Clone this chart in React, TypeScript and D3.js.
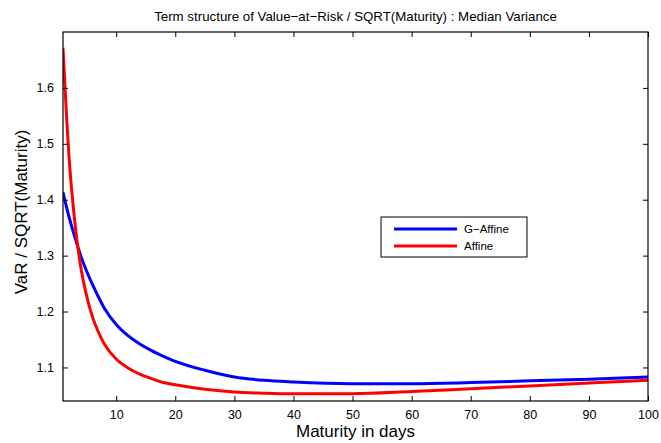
import { useEffect, useRef } from "react";
import * as d3 from "d3";

const days = [1, 2, 3, 4, 5, 6, 7, 8, 10, 12, 14, 16, 18, 20, 25, 30, 35, 40, 50, 60, 70, 80, 90, 100];
const gAffine = [1.413, 1.37, 1.333, 1.3, 1.272, 1.248, 1.226, 1.206, 1.177, 1.157, 1.142, 1.13, 1.12, 1.111, 1.095, 1.083, 1.077, 1.074, 1.071, 1.071, 1.073, 1.076, 1.079, 1.083];
const affine = [1.672, 1.48, 1.36, 1.28, 1.228, 1.19, 1.163, 1.142, 1.115, 1.099, 1.088, 1.08, 1.073, 1.069, 1.061, 1.056, 1.054, 1.053, 1.053, 1.057, 1.062, 1.067, 1.072, 1.077];
const xTicks = [10, 20, 30, 40, 50, 60, 70, 80, 90, 100];
const yTicks = [1.1, 1.2, 1.3, 1.4, 1.5, 1.6];

const series = [
  { name: "G\u2212Affine", values: gAffine, color: "#0000ff" },
  { name: "Affine", values: affine, color: "#ff0000" },
];

const W = 661;
const H = 443;
const margin = { left: 63, right: 13, top: 32, bottom: 42 };
const font = "'Liberation Sans', Arial, Helvetica, sans-serif";

export default function App() {
  const ref = useRef<SVGSVGElement>(null);

  useEffect(() => {
    if (!ref.current) return;
    const svg = d3.select(ref.current);
    svg.selectAll("*").remove();

    const x = d3.scaleLinear().domain([1, 100]).range([margin.left, W - margin.right]);
    const y = d3.scaleLinear().domain([1.04, 1.7]).range([H - margin.bottom, margin.top]);

    svg.append("rect").attr("width", W).attr("height", H).attr("fill", "#fff");

    // curves
    const line = d3
      .line<number>()
      .x((_, i) => x(days[i]))
      .y((d) => y(d))
      .curve(d3.curveMonotoneX);

    svg
      .append("defs")
      .append("clipPath")
      .attr("id", "plotclip")
      .append("rect")
      .attr("x", margin.left)
      .attr("y", margin.top)
      .attr("width", W - margin.left - margin.right)
      .attr("height", H - margin.top - margin.bottom);

    series.forEach((s) => {
      svg
        .append("path")
        .attr("d", line(s.values))
        .attr("fill", "none")
        .attr("stroke", s.color)
        .attr("stroke-width", 3)
        .attr("clip-path", "url(#plotclip)");
    });

    // box axes, ticks inside
    const tick = 5;
    const bottom = svg.append("g").attr("transform", `translate(0,${H - margin.bottom})`);
    bottom.call(d3.axisBottom(x).tickValues(xTicks).tickSizeInner(-tick).tickSizeOuter(0).tickPadding(9));
    const top = svg.append("g").attr("transform", `translate(0,${margin.top})`);
    top.call(d3.axisTop(x).tickValues(xTicks).tickSizeInner(-tick).tickSizeOuter(0).tickFormat(() => ""));
    const left = svg.append("g").attr("transform", `translate(${margin.left},0)`);
    left.call(d3.axisLeft(y).tickValues(yTicks).tickSizeInner(-tick).tickSizeOuter(0).tickPadding(9).tickFormat(d3.format(".1f")));
    const right = svg.append("g").attr("transform", `translate(${W - margin.right},0)`);
    right.call(d3.axisRight(y).tickValues(yTicks).tickSizeInner(-tick).tickSizeOuter(0).tickFormat(() => ""));

    svg.selectAll(".domain").remove();
    svg.selectAll(".tick line").attr("stroke", "#000");
    svg
      .selectAll(".tick text")
      .attr("font-family", font)
      .attr("font-size", 12.5)
      .attr("fill", "#000");

    svg
      .append("rect")
      .attr("x", margin.left)
      .attr("y", margin.top)
      .attr("width", W - margin.left - margin.right)
      .attr("height", H - margin.top - margin.bottom)
      .attr("fill", "none")
      .attr("stroke", "#000")
      .attr("stroke-width", 1.2);

    // title and labels
    svg
      .append("text")
      .attr("x", (margin.left + W - margin.right) / 2)
      .attr("y", 21)
      .attr("text-anchor", "middle")
      .attr("font-family", font)
      .attr("font-size", 13.3)
      .text("Term structure of Value\u2212at\u2212Risk / SQRT(Maturity) : Median Variance");

    svg
      .append("text")
      .attr("x", (margin.left + W - margin.right) / 2)
      .attr("y", 437)
      .attr("text-anchor", "middle")
      .attr("font-family", font)
      .attr("font-size", 17)
      .text("Maturity in days");

    svg
      .append("text")
      .attr("transform", "translate(27,212) rotate(-90)")
      .attr("text-anchor", "middle")
      .attr("font-family", font)
      .attr("font-size", 17)
      .text("VaR / SQRT(Maturity)");

    // legend
    const lg = svg.append("g").attr("transform", "translate(381,217)");
    lg.append("rect")
      .attr("width", 146)
      .attr("height", 40)
      .attr("fill", "#fff")
      .attr("stroke", "#000")
      .attr("stroke-width", 1);
    series.forEach((s, i) => {
      const yy = 12 + i * 17;
      lg.append("line")
        .attr("x1", 13)
        .attr("x2", 76)
        .attr("y1", yy)
        .attr("y2", yy)
        .attr("stroke", s.color)
        .attr("stroke-width", 3);
      lg.append("text")
        .attr("x", 83)
        .attr("y", yy + 4)
        .attr("font-family", font)
        .attr("font-size", 11.5)
        .text(s.name);
    });
  }, []);

  return (
    <svg
      ref={ref}
      width={W}
      height={H}
      style={{ position: "absolute", left: 0, top: 0 }}
    />
  );
}
